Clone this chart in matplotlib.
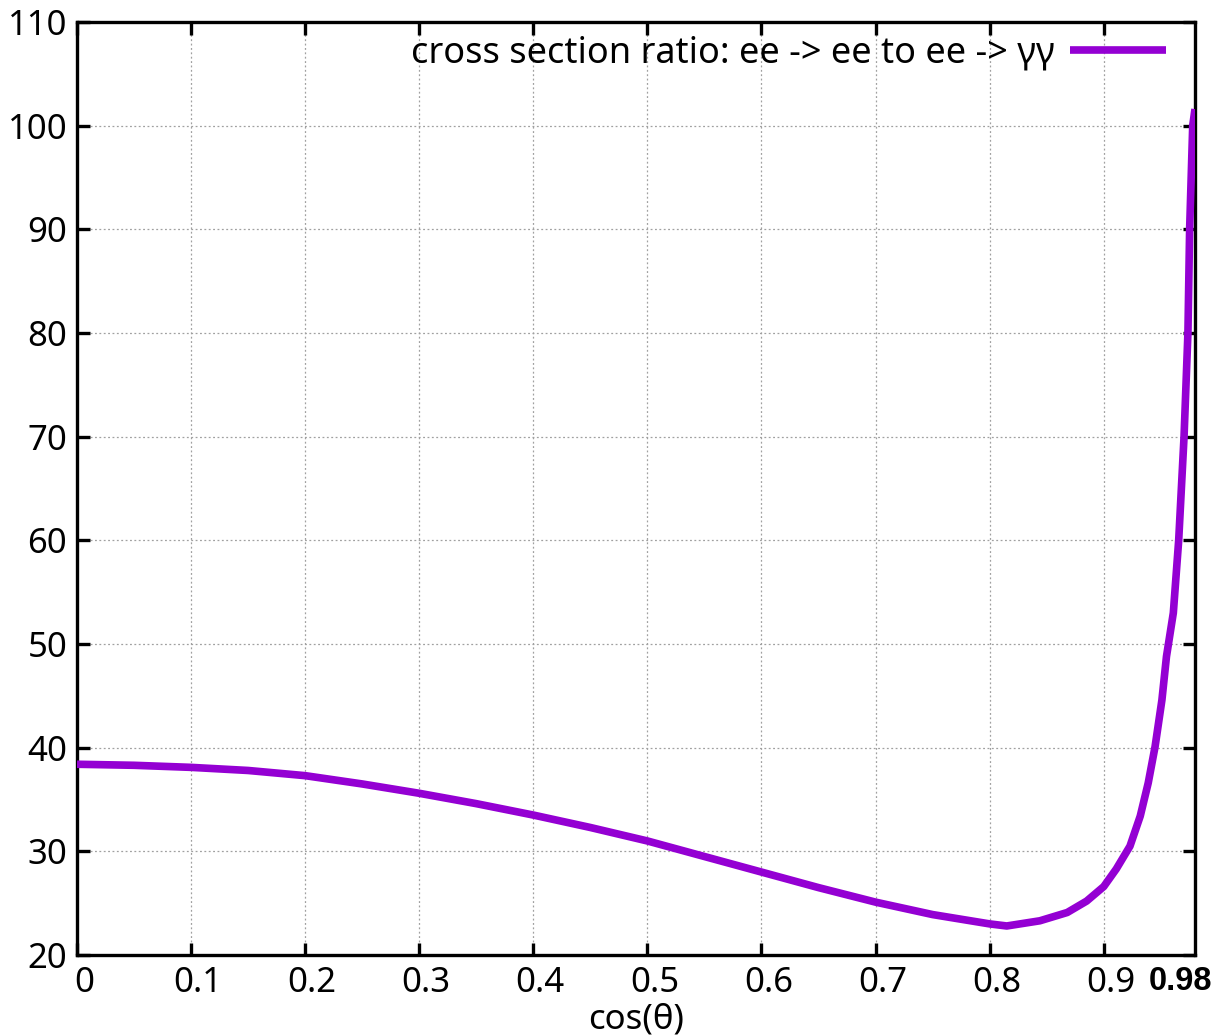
import matplotlib
matplotlib.use("Agg")
import matplotlib.pyplot as plt
import matplotlib.transforms as mtransforms

# Data
cos_theta = [0.0, 0.05, 0.1, 0.15, 0.2, 0.25, 0.3, 0.35, 0.4, 0.45, 0.5, 0.55,
             0.6, 0.65, 0.7, 0.75, 0.8, 0.815, 0.844, 0.868, 0.885, 0.9, 0.911,
             0.923, 0.932, 0.939, 0.945, 0.951, 0.955, 0.961, 0.9657, 0.9704,
             0.9738, 0.9753, 0.978, 0.98]
ratio = [38.4, 38.3, 38.1, 37.8, 37.3, 36.5, 35.6, 34.6, 33.5, 32.3, 31.0, 29.5,
         28.0, 26.5, 25.1, 23.9, 23.0, 22.8, 23.3, 24.1, 25.2, 26.6, 28.3,
         30.5, 33.4, 36.6, 40.1, 44.6, 48.8, 53.0, 60.0, 70.0,
         80.0, 90.0, 100.0, 101.6]

xticks = [0, 0.1, 0.2, 0.3, 0.4, 0.5, 0.6, 0.7, 0.8, 0.9]
xticklabels = ["0", "0.1", "0.2", "0.3", "0.4", "0.5", "0.6", "0.7", "0.8", "0.9"]
x_end = 0.98
x_end_label = "0.98"
yticks = [20, 30, 40, 50, 60, 70, 80, 90, 100, 110]
series_label = "cross section ratio: ee -> ee to ee -> γγ"
xlabel = "cos(θ)"

plt.rcParams['font.family'] = ['Noto Sans', 'DejaVu Sans']

W, H = 1215, 1036
fig = plt.figure(figsize=(W / 100, H / 100), dpi=100)
left, right, top, bottom = 77, 1195, 22, 955
ax = fig.add_axes([left / W, 1 - bottom / H, (right - left) / W, (bottom - top) / H])

ax.plot(cos_theta, ratio, color="#9400D3", lw=5.5, label=series_label,
        solid_capstyle="butt", zorder=3)

ax.set_xlim(0, x_end)
ax.set_ylim(20, 110)
ax.set_xticks(xticks)
ax.set_xticklabels(xticklabels)
ax.set_yticks(yticks)

ax.grid(True, color="#a0a0a0", linestyle=(0, (1.5, 2)), lw=0.9)
for s in ax.spines.values():
    s.set_linewidth(2.4)
    s.set_color("black")

ax.tick_params(axis="both", direction="in", length=9, width=2.4,
               top=True, right=True, labelsize=25, colors="black", pad=7)
ax.tick_params(axis="x", pad=8)

# offset x tick labels like the reference
offset = mtransforms.ScaledTranslation(7 / 100, 0, fig.dpi_scale_trans)
for lab in ax.get_xticklabels():
    lab.set_transform(lab.get_transform() + offset)

# bold end label at 0.98
end_tr = mtransforms.blended_transform_factory(ax.transData, ax.transAxes) + \
    mtransforms.ScaledTranslation(-14 / 100, 0, fig.dpi_scale_trans)
ax.text(x_end, -(981 - bottom) / (bottom - top), x_end_label, transform=end_tr,
        ha="center", va="center", fontsize=23.5, fontweight="bold",
        family=["Liberation Sans", "DejaVu Sans"], color="black")

ax.set_xlabel(xlabel, fontsize=25, va="baseline")
ax.xaxis.set_label_coords(0.5, -(1028 - bottom) / (bottom - top))

leg = ax.legend(loc="upper right", frameon=False, fontsize=26,
                markerfirst=False, handlelength=2.66, handletextpad=0.42,
                borderaxespad=0, bbox_to_anchor=(0.987, 1.001))

fig.savefig("out.png", dpi=100)
